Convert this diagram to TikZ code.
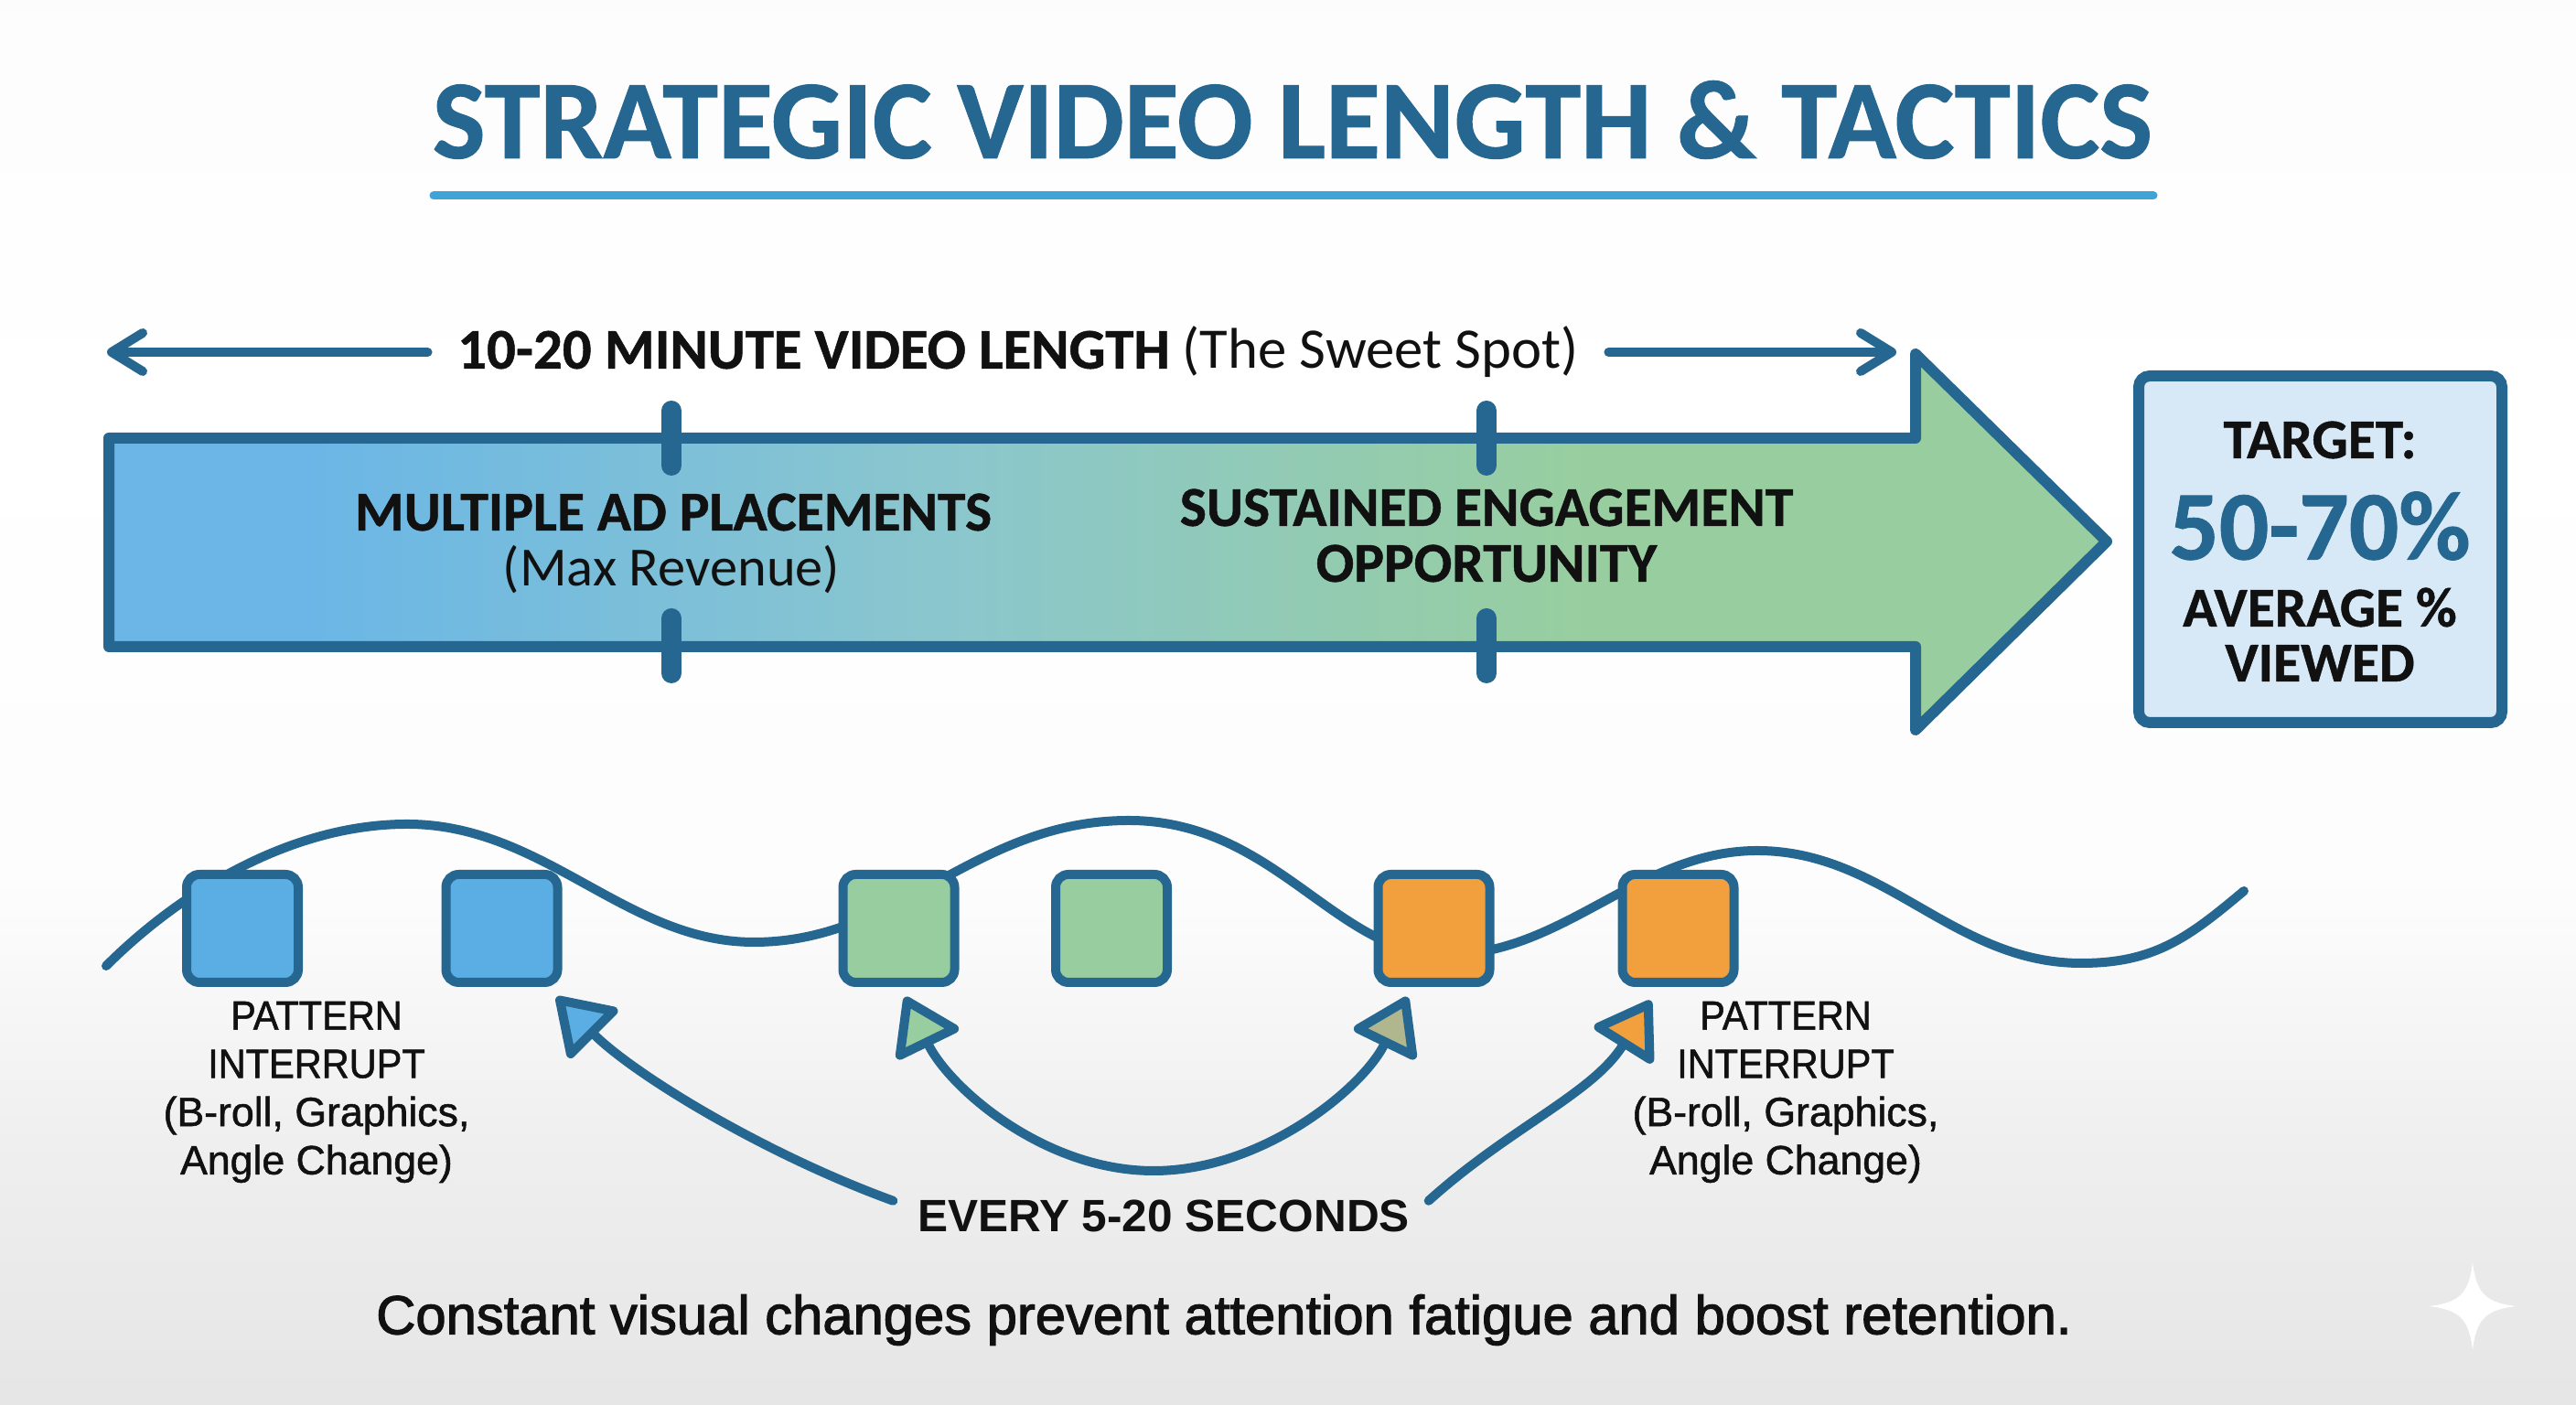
\documentclass[tikz,border=0pt]{standalone}
\usepackage{fontspec}
\setmainfont[BoldFeatures={FakeBold=0.8}]{Carlito}
\newfontfamily\armfont{Liberation Sans}
\newfontfamily\labelfont[FakeBold=1.2]{Liberation Sans}
\newfontfamily\squeezefont[FakeBold=1.2,FakeStretch=0.93]{Liberation Sans}
\newfontfamily\capfont[FakeBold=2]{Liberation Sans}
\usetikzlibrary{arrows.meta}
\usetikzlibrary{calc}

\definecolor{deep}{HTML}{256790}
\definecolor{rule}{HTML}{3FA3D8}
\definecolor{skyfill}{HTML}{5AAEE3}
\definecolor{leaffill}{HTML}{98CE9F}
\definecolor{olivefill}{HTML}{B0B78E}
\definecolor{sunfill}{HTML}{F2A03D}
\definecolor{palefill}{HTML}{D7E9F6}
\definecolor{ink}{HTML}{111111}

\pgfdeclarehorizontalshading{barfade}{100bp}{
  color(0bp)=(skyfill!90!white); color(30bp)=(skyfill!90!white);
  color(46bp)=(leaffill!45!skyfill!85!white); color(62bp)=(leaffill); color(100bp)=(leaffill)}
\pgfdeclareverticalshading{pagefade}{100bp}{
  color(0bp)=(black!10); color(25bp)=(black!10); color(34bp)=(black!6.5);
  color(43bp)=(black!1); color(60bp)=(white); color(75bp)=(black!1); color(100bp)=(black!1)}

\tikzset{
  clipbox/.style={draw=deep, line width=1mm, rounded corners=1.4mm, inner sep=0pt,
    minimum width=1.22cm, minimum height=1.18cm},
  notch/.style={deep, line width=2.2mm, line cap=round},
  lengtharrow/.style={deep, line width=1mm, line cap=round,
    -{Straight Barb[round,length=3.4mm,width=4.2mm]}},
  sweep/.style={deep, line width=1mm, line cap=round},
  barhead/.style={text=ink, font=\fontsize{17.5}{21}\selectfont\bfseries},
  barsub/.style={text=ink, font=\fontsize{17.2}{21}\selectfont},
  interrupt/.style={text=ink, align=center, font=\fontsize{12.7}{15}\selectfont\labelfont},
}

\begin{document}
\begin{tikzpicture}

% page
\useasboundingbox (0,0) rectangle (28.16,15.36);
\shade[shading=pagefade] (0,0) rectangle (28.16,15.36);

% title and its rule
\node (title) at (14.13,14.05) [text=deep, font=\fontsize{34.9}{40}\selectfont\bfseries]
    {STRATEGIC VIDEO LENGTH \& TACTICS};
\draw [rule, line width=0.9mm, line cap=round] (4.74,13.22) -- (23.54,13.22);

% length label with its two arrows
\node (length) at (11.13,11.51) [text=ink, inner sep=3.2mm, font=\fontsize{17.85}{21}\selectfont]
    {\textbf{10-20 MINUTE VIDEO LENGTH} (The Sweet Spot)};
\coordinate (lengthl) at (length.west -| 1.17,0);
\coordinate (lengthr) at (length.east -| 20.73,0);
\draw [lengtharrow] (length.west) -- (lengthl);
\draw [lengtharrow] (length.east) -- (lengthr);

% big arrow
\draw [shading=barfade, draw=deep, line width=1.2mm, line join=round]
    (1.19,10.57) -- (20.94,10.57) -- (20.94,11.49) -- (23.03,9.44)
    -- (20.94,7.38) -- (20.94,8.29) -- (1.19,8.29) -- cycle;

% notches on the big arrow
\draw [notch] (7.34,10.87) -- (7.34,10.27);
\draw [notch] (7.34,8.60) -- (7.34,8.00);
\draw [notch] (16.25,10.87) -- (16.25,10.27);
\draw [notch] (16.25,8.60) -- (16.25,8.00);

\node (ads) at (7.36,9.76) [barhead] {MULTIPLE AD PLACEMENTS};
\node (rev) at (7.34,9.13) [barsub] {(Max Revenue)};
\node (sust) at (16.25,9.81) [barhead] {SUSTAINED ENGAGEMENT};
\node (opp) at (16.25,9.20) [barhead] {OPPORTUNITY};

% target box
\node (target) at (25.365,9.355) [draw=deep, fill=palefill, line width=1.2mm,
    rounded corners=1.2mm, minimum width=3.97cm, minimum height=3.79cm] {};
\node (tlabel) at (25.36,10.55) [barhead] {TARGET:};
\node (tvalue) at (25.36,9.61) [text=deep, font=\fontsize{30.6}{36}\selectfont\bfseries] {50-70\%};
\node (tavg) at (25.36,8.72) [barhead] {AVERAGE \%};
\node (tview) at (25.36,8.11) [barhead] {VIEWED};

% wave, runs behind the boxes
\draw [sweep] (1.16,4.80)
    .. controls +(45:1.1) and +(180:1.3) .. (4.45,6.35)
    .. controls +(0:1.5) and +(180:1.4) .. (8.24,5.06)
    .. controls +(0:1.6) and +(180:1.7) .. (12.34,6.39)
    .. controls +(0:1.6) and +(180:1.2) .. (15.80,4.92)
    .. controls +(0:1.3) and +(180:1.3) .. (19.21,6.06)
    .. controls +(0:1.4) and +(180:1.4) .. (22.75,4.83)
    .. controls +(0:0.8) and +(220:0.8) .. (24.53,5.62);

% pattern boxes
\node (blueone) at (2.65,5.21) [clipbox, fill=skyfill] {};
\node (bluetwo) at (5.485,5.21) [clipbox, fill=skyfill] {};
\node (greenone) at (9.825,5.21) [clipbox, fill=leaffill] {};
\node (greentwo) at (12.15,5.21) [clipbox, fill=leaffill] {};
\node (orangeone) at (15.675,5.21) [clipbox, fill=sunfill] {};
\node (orangetwo) at (18.345,5.21) [clipbox, fill=sunfill] {};

\node (ileft) at (3.46,3.42) [interrupt]
    {{\squeezefont PATTERN}\\{\squeezefont INTERRUPT}\\(B-roll, Graphics,\\Angle Change)};
\node (iright) at (19.52,3.42) [interrupt]
    {{\squeezefont PATTERN}\\{\squeezefont INTERRUPT}\\(B-roll, Graphics,\\Angle Change)};

% seconds label and the arrows leaving it
\node (every) at (12.72,2.07) [text=ink, inner sep=0pt, font=\fontsize{14.1}{17}\selectfont\armfont\bfseries]
    {EVERY 5-20 SECONDS};
\coordinate (fromleft) at ($(every.north west)+(-0.26,-0.02)$);
\coordinate (fromright) at ($(every.north east)+(0.20,-0.02)$);
\coordinate (tipa) at ($(bluetwo.south east)+(-0.06,-0.11)$);
\coordinate (tipb) at ($(greenone.south)+(0.07,-0.11)$);
\coordinate (tipc) at ($(orangeone.south)+(-0.29,-0.11)$);
\coordinate (tipd) at ($(orangetwo.south)+(-0.30,-0.15)$);
\coordinate (lowest) at (12.61,2.56);

\draw [sweep, -{Triangle[round,length=6.4mm,width=8.2mm,fill=skyfill]}] (fromleft)
    .. controls +(160:1.5) and +(-45:1.2) .. (tipa);
\draw [sweep, {Triangle[round,length=6.4mm,width=8.2mm,fill=leaffill]}-{Triangle[round,length=6.4mm,width=8.2mm,fill=olivefill]}] (tipb)
    .. controls +(-64:1.1) and +(180:1.2) .. (lowest)
    .. controls +(0:1.2) and +(-116:1.1) .. (tipc);
\draw [sweep, -{Triangle[round,length=6.4mm,width=8.2mm,fill=sunfill]}] (fromright)
    .. controls +(42:1.2) and +(-122:1.2) .. (tipd);

\node (closing) at (13.38,0.93) [text=ink, font=\fontsize{17}{24}\selectfont\capfont]
    {Constant visual changes prevent attention fatigue and boost retention.};

% sparkle, bottom right
\fill [white] (27.03,1.56) .. controls (27.07,1.22) and (27.17,1.12) .. (27.51,1.08)
    .. controls (27.17,1.04) and (27.07,0.94) .. (27.03,0.60)
    .. controls (26.99,0.94) and (26.89,1.04) .. (26.55,1.08)
    .. controls (26.89,1.12) and (26.99,1.22) .. (27.03,1.56) -- cycle;

\end{tikzpicture}
\end{document}
